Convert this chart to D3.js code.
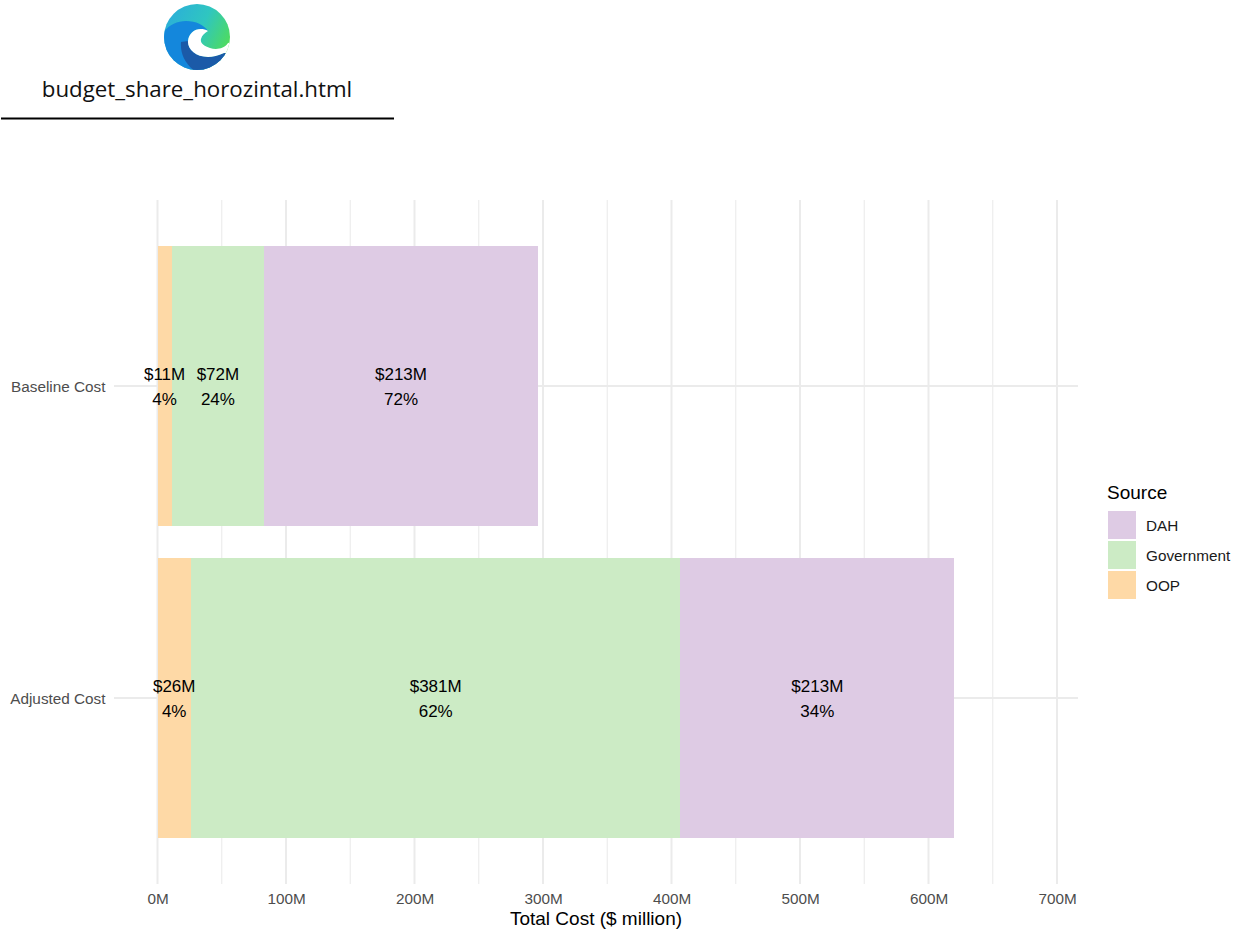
<!DOCTYPE html>
<html><head><meta charset="utf-8">
<style>html,body{margin:0;padding:0;background:#fff}svg{display:block}text{font-family:"Liberation Sans",Arial,sans-serif}</style>
<script src="https://cdn.jsdelivr.net/npm/d3@7"></script></head><body>
<svg id="c" width="1249" height="943"></svg>
<script>
const categories=["Baseline Cost","Adjusted Cost"];
const sources=["OOP","Government","DAH"];
const legendOrder=["DAH","Government","OOP"];
const oop=[11,26];
const government=[72,381];
const dah=[213,213];
const oopPct=[4,4];
const governmentPct=[24,62];
const dahPct=[72,34];
const majorTicks=[0,100,200,300,400,500,600,700];
const minorTicks=[50,150,250,350,450,550,650];
const colors=["#fed9a6","#ccebc5","#decbe4"];

const svg=d3.select("#c");
const x=d3.scaleLinear().domain([0,700]).range([157.5,1057]);
const y=d3.scaleBand().domain(categories).range([246,838]).paddingInner(32/312).paddingOuter(0);
const color=d3.scaleOrdinal(sources,colors);
const rows=categories.map((c,i)=>({cat:c,OOP:oop[i],Government:government[i],DAH:dah[i]}));
const pcts={OOP:oopPct,Government:governmentPct,DAH:dahPct};
const stacked=d3.stack().keys(sources)(rows);

// grid
const panelTop=200,panelBottom=884,panelLeft=114,panelRight=1078;
const grid=svg.append("g").attr("fill","none");
grid.selectAll(".minor").data(minorTicks).join("line").attr("class","minor").attr("x1",x).attr("x2",x).attr("y1",panelTop).attr("y2",panelBottom).attr("stroke","#ebebeb").attr("stroke-width",1.1);
grid.selectAll(".major").data(majorTicks).join("line").attr("class","major").attr("x1",x).attr("x2",x).attr("y1",panelTop).attr("y2",panelBottom).attr("stroke","#ebebeb").attr("stroke-width",2);
grid.selectAll(".h").data(categories).join("line").attr("class","h").attr("x1",panelLeft).attr("x2",panelRight)
 .attr("y1",d=>y(d)+y.bandwidth()/2).attr("y2",d=>y(d)+y.bandwidth()/2).attr("stroke","#ebebeb").attr("stroke-width",2);

// bars
stacked.forEach(s=>{
  svg.append("g").attr("shape-rendering","crispEdges").selectAll("rect").data(s).join("rect")
   .attr("x",d=>x(d[0])).attr("width",d=>x(d[1])-x(d[0]))
   .attr("y",d=>y(d.data.cat)).attr("height",y.bandwidth())
   .attr("fill",color(s.key));
});
// labels
stacked.forEach(s=>{
  const g=svg.append("g").attr("font-size",17).attr("fill","#000").attr("text-anchor","middle");
  s.forEach((d,i)=>{
    const cx=x((d[0]+d[1])/2), cy=y(d.data.cat)+y.bandwidth()/2;
    g.append("text").attr("x",cx).attr("y",cy-6.5).text("$"+(d[1]-d[0])+"M");
    g.append("text").attr("x",cx).attr("y",cy+18.5).text(pcts[s.key][i]+"%");
  });
});
// axes
const ax=d3.axisBottom(x).tickValues(majorTicks).tickFormat(d=>d+"M").tickSize(0).tickPadding(0);
const axg=svg.append("g").attr("transform","translate(0,893)").call(ax);
axg.select(".domain").remove();
axg.selectAll("text").attr("font-size",15.3).attr("fill","#4d4d4d").style("font-family",'"Liberation Sans",Arial,sans-serif').attr("dy","0.71em");
const ay=d3.axisLeft(y).tickSize(0).tickPadding(0);
const ayg=svg.append("g").attr("transform","translate(105.5,1)").call(ay);
ayg.select(".domain").remove();
ayg.selectAll("text").attr("font-size",15.3).attr("fill","#4d4d4d").style("font-family",'"Liberation Sans",Arial,sans-serif');
svg.append("text").attr("x",596).attr("y",925).attr("text-anchor","middle").attr("font-size",19).attr("fill","#000").text("Total Cost ($ million)");

// legend
svg.append("text").attr("x",1107).attr("y",498.5).attr("font-size",19).attr("fill","#000").text("Source");
const lg=svg.append("g").selectAll("g").data(legendOrder).join("g").attr("transform",(d,i)=>`translate(1108,${511+i*30})`);
lg.append("rect").attr("width",28).attr("height",28).attr("fill",d=>color(d));
lg.append("text").attr("x",38).attr("y",14).attr("dy","0.36em").attr("font-size",15.3).attr("fill","#1a1a1a").text(d=>d);

// file icon header
const defs=svg.append("defs");
const g1=defs.append("linearGradient").attr("id","edgeTop").attr("x1","0").attr("y1","0.1").attr("x2","1").attr("y2","0.6");
g1.append("stop").attr("offset","0").attr("stop-color","#2aa9e0");
g1.append("stop").attr("offset","0.55").attr("stop-color","#2fc6c0");
g1.append("stop").attr("offset","1").attr("stop-color","#55e04a");
defs.append("clipPath").attr("id","edgeClip").append("circle").attr("cx",197).attr("cy",37).attr("r",33);
const ic=svg.append("g").attr("clip-path","url(#edgeClip)");
ic.append("rect").attr("x",160).attr("y",0).attr("width",75).attr("height",75).attr("fill","url(#edgeTop)");
ic.append("path").attr("d","M160 40C164 27 175 21 186 21C196 21 204 25 208 31C199 26 189 31 188 41C187 52 203 63 224 53L235 75L160 75Z").attr("fill","#1487dc");
ic.append("path").attr("d","M181 42C180 55 186 66 200 75L235 75L235 53L224 53C203 63 187 52 188 41Z").attr("fill","#1b5aa8");
ic.append("path").attr("d","M208 31C199 26 189 31 188 41C187 52 203 63 224 53L240 53L240 40L228 43C224 49 216 50 210 48C204 46 200 43 201 39C202 35 205 33 208 31Z").attr("fill","#fff");
svg.append("text").attr("x",197).attr("y",96.5).attr("text-anchor","middle").attr("font-size",22.3).attr("fill","#111").style("font-family",'"Open Sans",sans-serif').text("budget_share_horozintal.html");
svg.append("line").attr("x1",1).attr("x2",394).attr("y1",118.5).attr("y2",118.5).attr("stroke","#000").attr("stroke-width",2);
</script></body></html>
